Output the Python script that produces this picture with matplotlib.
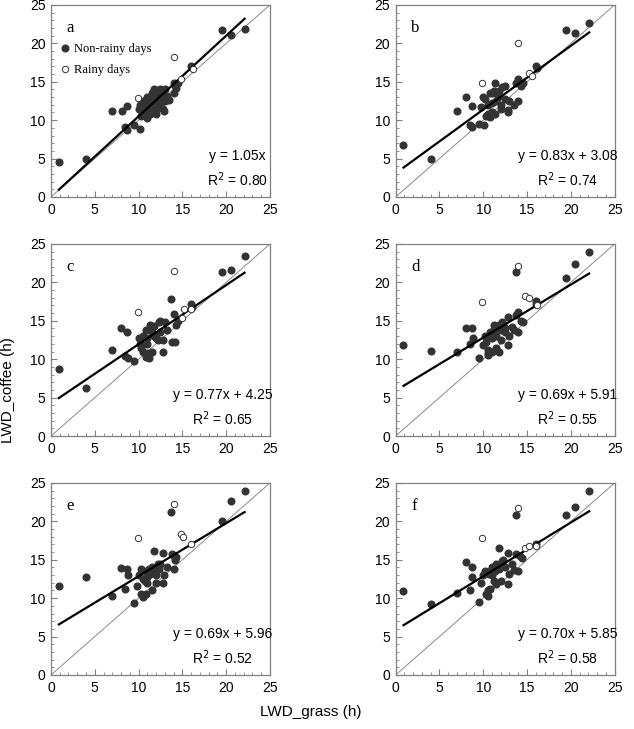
import matplotlib as mpl
mpl.use('Agg')
import matplotlib.pyplot as plt
import numpy as np
from matplotlib.ticker import MultipleLocator

mpl.rcParams.update({
    'font.family': 'Liberation Sans',
    'font.size': 10,
    'xtick.direction': 'in',
    'ytick.direction': 'in',
})

# ---- Daten ----
# a)
xa_dry = [0.9, 4.0, 7.0, 8.1, 8.7, 8.5, 8.7, 9.5, 10.2, 10.0, 10.3, 10.5, 10.5, 10.8, 10.8, 11.0, 11.0,
          11.2, 11.3, 11.5, 11.5, 11.6, 11.8, 11.8, 12.0, 12.0, 12.2, 12.3, 12.5, 12.5, 12.8, 12.8,
          12.9, 13.0, 13.0, 13.3, 11.0, 10.2, 12.0, 11.4, 13.5, 14.0, 14.2, 14.5, 14.0, 14.3, 16.0,
          19.5, 20.5, 22.1]
ya_dry = [4.5, 5.0, 11.2, 11.2, 11.9, 9.1, 8.7, 9.4, 8.9, 11.5, 10.5, 11.0, 12.5, 12.0, 10.8, 11.5, 13.0,
          12.2, 10.8, 13.5, 12.0, 11.2, 12.8, 14.0, 13.0, 11.5, 12.5, 13.5, 12.0, 14.0, 13.0, 11.5,
          11.2, 12.5, 14.0, 13.2, 10.3, 12.0, 10.8, 12.6, 12.6, 14.8, 14.5, 14.8, 13.6, 14.2, 17.0,
          21.7, 21.1, 21.9]
xa_wet = [9.9, 14.0, 14.8, 16.2]
ya_wet = [12.9, 18.2, 15.4, 16.7]

# b)
xb_dry = [0.9, 4.0, 7.0, 8.0, 8.7, 8.5, 8.7, 9.5, 10.1, 10.0, 10.2, 9.8, 10.3, 10.5, 10.5, 10.8, 11.0,
          11.0, 11.2, 11.4, 11.5, 11.3, 11.8, 12.0, 12.0, 12.2, 12.5, 12.5, 12.8, 12.8, 12.9, 13.5,
          13.8, 14.0, 14.0, 14.3, 14.5, 16.0, 16.1, 19.5, 20.5, 22.1, 11.7, 10.8, 11.0]
yb_dry = [6.8, 5.0, 11.2, 13.0, 11.9, 9.4, 9.1, 9.5, 9.4, 13.0, 12.7, 11.7, 10.5, 12.0, 10.8, 13.5, 11.0,
          12.2, 13.8, 14.8, 12.5, 10.8, 13.8, 12.0, 11.5, 14.3, 14.5, 12.8, 11.0, 11.3, 12.5, 12.0,
          14.8, 15.3, 12.5, 14.5, 14.8, 17.1, 16.8, 21.8, 21.3, 22.6, 13.0, 10.4, 13.6]
xb_wet = [9.9, 14.0, 15.2, 15.6]
yb_wet = [14.8, 20.0, 16.1, 15.7]

# c)
xc_dry = [0.9, 4.0, 7.0, 8.0, 8.7, 8.5, 8.8, 9.5, 10.0, 10.3, 10.5, 10.5, 10.8, 10.8, 11.0, 11.0, 11.2,
          11.3, 11.5, 11.5, 11.8, 11.8, 12.0, 12.2, 12.3, 12.5, 12.5, 12.8, 12.8, 13.0, 13.3, 13.7,
          13.8, 14.2, 14.0, 14.3, 14.5, 16.0, 16.1, 19.5, 20.5, 22.1, 11.0, 10.2]
yc_dry = [8.7, 6.2, 11.2, 14.0, 13.6, 10.4, 10.2, 9.8, 12.8, 11.5, 13.0, 11.0, 10.3, 13.8, 12.0, 10.8, 10.2,
          14.5, 13.5, 11.0, 13.0, 14.3, 12.8, 12.5, 14.8, 15.0, 13.5, 12.5, 11.0, 14.8, 13.8, 17.9,
          12.2, 12.2, 15.9, 14.5, 15.0, 17.2, 16.8, 21.4, 21.6, 23.4, 12.8, 12.0]
xc_wet = [9.9, 14.0, 15.2, 15.0, 16.0]
yc_wet = [16.2, 21.5, 16.6, 15.3, 16.5]

# d)
xd_dry = [0.9, 4.0, 7.0, 8.0, 8.7, 8.8, 8.5, 9.5, 10.0, 10.2, 10.3, 10.5, 10.5, 10.6, 10.8, 11.0, 11.0,
          11.2, 11.5, 11.5, 11.8, 11.8, 12.0, 12.0, 12.3, 12.5, 12.5, 12.8, 12.8, 13.0, 13.3, 13.7,
          13.8, 14.0, 14.0, 14.3, 14.5, 13.5, 16.0, 16.0, 19.5, 20.5, 22.1, 11.2, 12.2]
yd_dry = [11.8, 11.1, 11.0, 14.0, 14.0, 12.7, 12.0, 10.1, 11.9, 13.0, 12.2, 11.2, 10.8, 10.5, 13.5, 12.8, 11.0,
          14.5, 13.0, 11.5, 14.5, 11.0, 13.8, 12.5, 14.5, 14.0, 13.5, 15.5, 11.9, 13.0, 14.2, 21.3,
          15.8, 16.1, 13.6, 15.0, 14.8, 13.8, 17.6, 17.2, 20.6, 22.4, 24.0, 13.8, 14.8]
xd_wet = [9.9, 14.0, 14.8, 15.2, 16.1]
yd_wet = [17.5, 22.2, 18.2, 18.0, 17.0]

# e)
xe_dry = [0.9, 4.0, 7.0, 8.0, 8.7, 8.8, 8.5, 9.5, 9.8, 10.0, 10.3, 10.3, 10.5, 10.5, 10.8, 10.8, 11.0,
          11.0, 11.2, 11.5, 11.5, 11.8, 11.8, 12.0, 12.2, 12.3, 12.5, 12.8, 12.8, 12.9, 13.3, 13.7,
          13.8, 14.0, 14.2, 14.3, 14.0, 19.5, 20.5, 22.1, 11.3, 12.0, 10.7]
ye_dry = [11.6, 12.7, 10.3, 13.9, 13.8, 13.0, 11.2, 9.4, 11.6, 13.0, 13.8, 10.5, 12.5, 10.2, 10.6, 13.5, 12.8,
          12.0, 13.8, 14.0, 11.0, 16.1, 13.5, 12.0, 14.5, 13.8, 14.5, 15.9, 12.0, 13.0, 14.0, 21.2,
          15.8, 13.8, 15.0, 15.3, 15.5, 20.1, 22.6, 24.0, 13.2, 13.0, 12.3]
xe_wet = [9.9, 14.0, 14.8, 15.1, 16.0]
ye_wet = [17.8, 22.3, 18.4, 17.9, 17.0]

# f)
xf_dry = [0.9, 4.0, 7.0, 8.0, 8.7, 8.7, 8.5, 9.5, 9.8, 10.0, 10.2, 10.3, 10.5, 10.5, 10.8, 10.8, 11.0,
          11.0, 11.2, 11.5, 11.5, 11.8, 11.8, 12.0, 12.2, 12.3, 12.5, 12.8, 12.8, 12.9, 13.3, 13.7,
          13.8, 14.0, 14.2, 14.4, 13.5, 16.0, 19.5, 20.5, 22.1, 11.3, 10.7]
yf_dry = [10.9, 9.2, 10.7, 14.7, 14.1, 12.7, 11.0, 9.5, 12.0, 13.0, 13.5, 10.5, 11.0, 10.3, 11.2, 13.5, 13.0,
          14.0, 12.2, 14.5, 11.8, 16.5, 13.8, 12.3, 14.8, 15.0, 14.0, 15.9, 11.9, 13.2, 14.5, 20.8,
          15.8, 13.6, 15.5, 15.2, 13.7, 17.0, 20.8, 21.9, 24.0, 13.6, 13.2]
xf_wet = [9.9, 14.0, 14.8, 15.2, 16.0]
yf_wet = [17.8, 21.8, 16.5, 16.8, 16.8]

buchstaben = ['a', 'b', 'c', 'd', 'e', 'f']
steigung = [1.05, 0.83, 0.77, 0.69, 0.69, 0.70]
achsenabschnitt = [0.0, 3.08, 4.25, 5.91, 5.96, 5.85]
r2 = [0.80, 0.74, 0.65, 0.55, 0.52, 0.58]
gleichungen = ['y = 1.05x', 'y = 0.83x + 3.08', 'y = 0.77x + 4.25',
               'y = 0.69x + 5.91', 'y = 0.69x + 5.96', 'y = 0.70x + 5.85']

dry = [(xa_dry, ya_dry), (xb_dry, yb_dry), (xc_dry, yc_dry),
       (xd_dry, yd_dry), (xe_dry, ye_dry), (xf_dry, yf_dry)]
wet = [(xa_wet, ya_wet), (xb_wet, yb_wet), (xc_wet, yc_wet),
       (xd_wet, yd_wet), (xe_wet, ye_wet), (xf_wet, yf_wet)]

fig = plt.figure(figsize=(6.34, 7.29), dpi=100)

links = [0.0804, 0.624]
unten = [0.7298, 0.4019, 0.0741]
breite, hoehe = 0.3454, 0.2634
spine_col = '#808080'

for i in range(6):
    ax = fig.add_axes([links[i % 2], unten[i // 2], breite, hoehe])
    xd, yd = dry[i]
    xw, yw = wet[i]

    # 1:1 Linie
    ax.plot([0, 25], [0, 25], color='#8a8a8a', lw=0.7, zorder=1)
    # Regressionsgerade
    xx = np.array([0.9, 22.1])
    ax.plot(xx, steigung[i] * xx + achsenabschnitt[i], color='black', lw=1.6, zorder=3)

    ax.plot(xd, yd, 'o', ms=4.8, color='#333333', mec='#333333', zorder=2,
            label='Non-rainy days', linestyle='none')
    ax.plot(xw, yw, 'o', ms=4.6, mfc='white', mec='#333333', mew=0.7, zorder=4,
            label='Rainy days', linestyle='none')

    ax.set_xlim(0, 25)
    ax.set_ylim(0, 25)
    ax.xaxis.set_major_locator(MultipleLocator(5))
    ax.yaxis.set_major_locator(MultipleLocator(5))
    ax.xaxis.set_minor_locator(MultipleLocator(1))
    ax.yaxis.set_minor_locator(MultipleLocator(1))
    ax.tick_params(which='major', length=4.5, width=0.8, color=spine_col, labelsize=10, pad=4)
    ax.tick_params(which='minor', length=2.5, width=0.6, color=spine_col)
    for s in ax.spines.values():
        s.set_color(spine_col)
        s.set_linewidth(0.9)

    ax.text(0.07, 0.88, buchstaben[i], transform=ax.transAxes, family='Liberation Serif',
            fontsize=12, va='center', ha='left')

    txt = gleichungen[i] + '\n' + r'R$^2$ = %.2f' % r2[i]
    xpos = 0.85 if i == 0 else 0.785
    ax.text(xpos, 0.145, txt, transform=ax.transAxes, ha='center', va='center',
            multialignment='center', fontsize=10, linespacing=1.45)

    if i == 0:
        ax.legend(loc='upper left', bbox_to_anchor=(0.03, 0.80), frameon=False,
                  prop={'family': 'Liberation Serif', 'size': 9}, handletextpad=0.1,
                  labelspacing=0.7, handlelength=1.2, borderpad=0, borderaxespad=0)

fig.text(0.013, 0.465, 'LWD_coffee (h)', rotation=90, ha='center', va='center', fontsize=11)
fig.text(0.49, 0.023, 'LWD_grass (h)', ha='center', va='center', fontsize=11)

fig.savefig('out.png', dpi=100)
print('Fertig')
